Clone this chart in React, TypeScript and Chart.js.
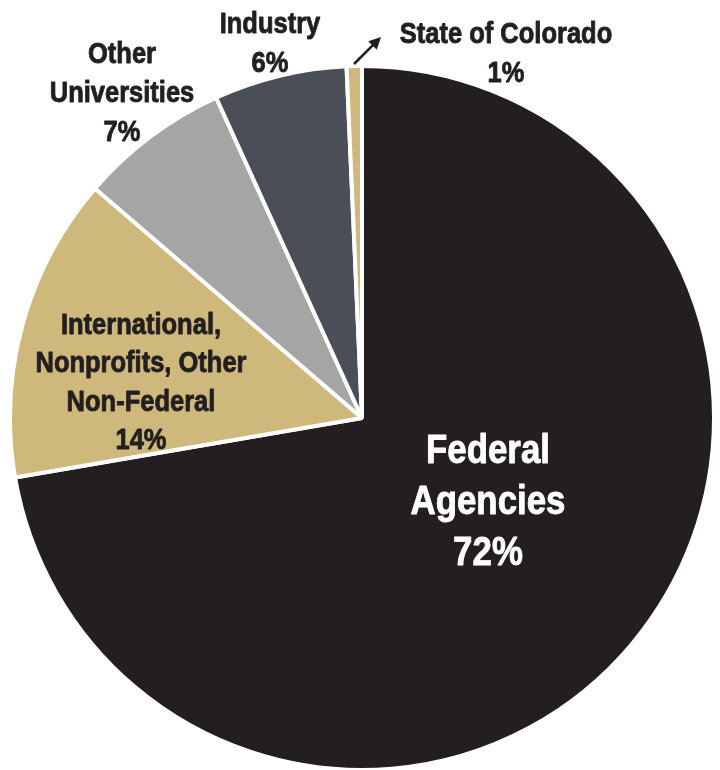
import React, { useEffect, useRef } from "react";
import { Chart, registerables } from "chart.js";

Chart.register(...registerables);

const categories = [
  "Federal Agencies",
  "International, Nonprofits, Other Non-Federal",
  "Other Universities",
  "Industry",
  "State of Colorado",
];
const shares = [72.3, 14.0, 6.9, 6.1, 0.7];
const percentLabels = ["72%", "14%", "7%", "6%", "1%"];
const labelLines = [
  ["Federal", "Agencies"],
  ["International,", "Nonprofits, Other", "Non-Federal"],
  ["Other", "Universities"],
  ["Industry"],
  ["State of Colorado"],
];
const sliceColors = ["#231f20", "#cfb87c", "#a5a5a5", "#4a4e57", "#cfb87c"];

// text placement (first baseline, line step, font size, colour)
const LABEL_LAYOUT = [
  { x: 488, y: 463, step: 51, size: 41, color: "#ffffff" },
  { x: 141, y: 334, step: 38.4, size: 30, color: "#231f20" },
  { x: 122, y: 63, step: 39, size: 30, color: "#231f20" },
  { x: 270, y: 33, step: 39, size: 30, color: "#231f20" },
  { x: 506, y: 43, step: 39, size: 30, color: "#231f20" },
];
const TEXT_SCALE_X = 0.85;
const FONT_FAMILY = '"Liberation Sans", Arial, sans-serif';

const labelPlugin = {
  id: "sliceLabels",
  afterDraw(chart: any) {
    const ctx = chart.ctx as CanvasRenderingContext2D;
    ctx.save();
    ctx.textAlign = "center";
    ctx.textBaseline = "alphabetic";
    ctx.lineJoin = "round";
    categories.forEach((_, i) => {
      const L = LABEL_LAYOUT[i];
      const lines = [...labelLines[i], percentLabels[i]];
      ctx.font = `bold ${L.size}px ${FONT_FAMILY}`;
      ctx.fillStyle = L.color;
      ctx.strokeStyle = L.color;
      ctx.lineWidth = 0.9;
      lines.forEach((t, j) => {
        ctx.save();
        ctx.translate(L.x, L.y + j * L.step);
        ctx.scale(TEXT_SCALE_X, 1);
        ctx.fillText(t, 0, 0);
        ctx.strokeText(t, 0, 0);
        ctx.restore();
      });
    });
    // arrow pointing from the tiny slice to its label
    const x1 = 354, y1 = 64, x2 = 381, y2 = 37;
    ctx.strokeStyle = "#231f20";
    ctx.fillStyle = "#231f20";
    ctx.lineWidth = 2.5;
    ctx.lineCap = "butt";
    const ang = Math.atan2(y2 - y1, x2 - x1);
    const head = 12;
    ctx.beginPath();
    ctx.moveTo(x1, y1);
    ctx.lineTo(x2 - Math.cos(ang) * head * 0.6, y2 - Math.sin(ang) * head * 0.6);
    ctx.stroke();
    ctx.beginPath();
    ctx.moveTo(x2, y2);
    ctx.lineTo(
      x2 - head * Math.cos(ang) + (head / 2) * Math.sin(ang),
      y2 - head * Math.sin(ang) - (head / 2) * Math.cos(ang)
    );
    ctx.lineTo(
      x2 - head * Math.cos(ang) - (head / 2) * Math.sin(ang),
      y2 - head * Math.sin(ang) + (head / 2) * Math.cos(ang)
    );
    ctx.closePath();
    ctx.fill();
    ctx.restore();
  },
};

export default function App() {
  const ref = useRef<HTMLCanvasElement | null>(null);
  useEffect(() => {
    if (!ref.current) return;
    const chart = new Chart(ref.current, {
      type: "pie",
      data: {
        labels: categories,
        datasets: [
          {
            data: shares,
            backgroundColor: sliceColors,
            borderColor: "#ffffff",
            borderWidth: 4,
            radius: 352,
            clip: false,
          } as any,
        ],
      },
      options: {
        responsive: false,
        animation: false,
        events: [],
        layout: { padding: { left: 4, right: 0, top: 66, bottom: 0 } },
        plugins: {
          legend: { display: false },
          tooltip: { enabled: false },
        },
      },
      plugins: [labelPlugin],
    });
    return () => chart.destroy();
  }, []);
  return (
    <div style={{ position: "absolute", left: 0, top: 0, width: 720, height: 770, background: "#fff" }}>
      <canvas ref={ref} width={720} height={770} />
    </div>
  );
}
